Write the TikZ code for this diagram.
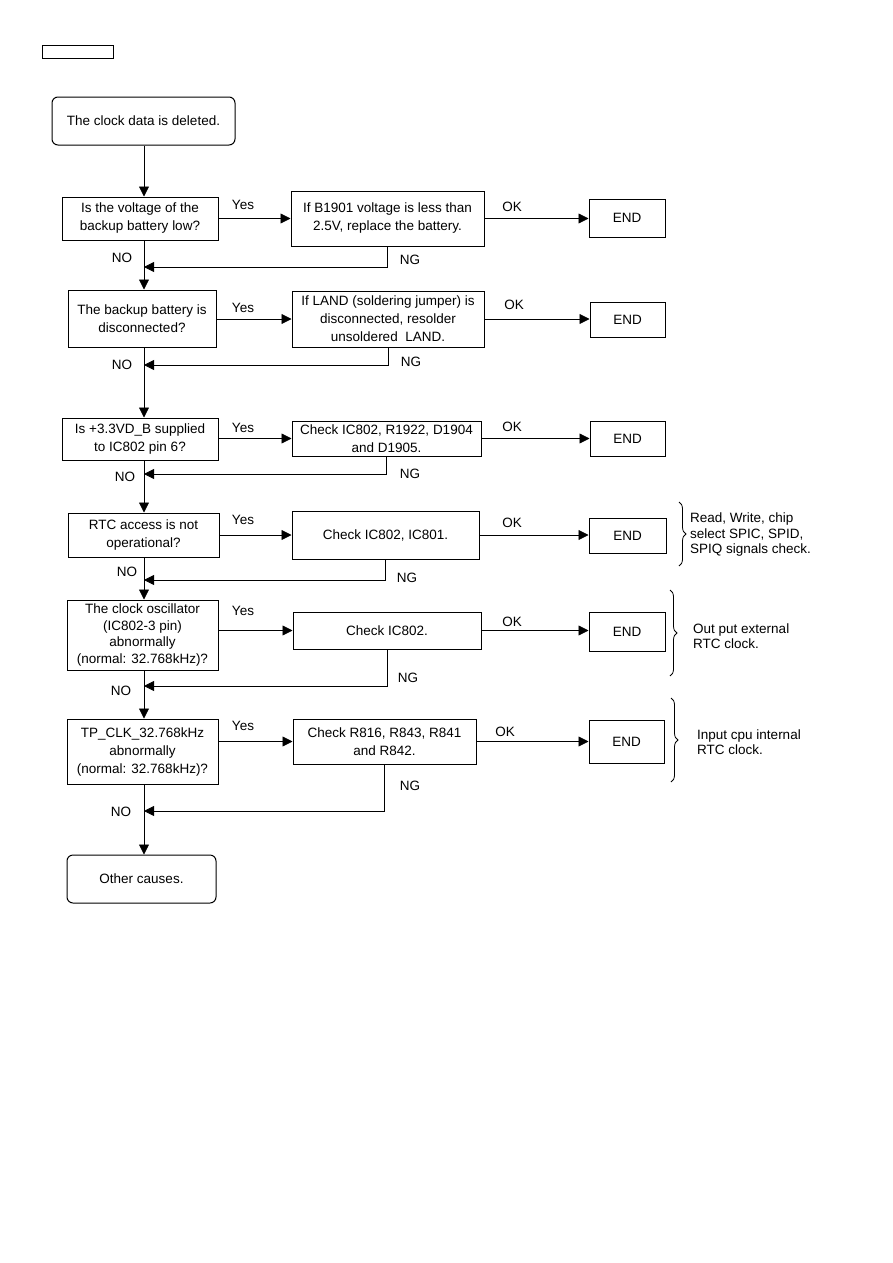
\documentclass[tikz,border=0pt]{standalone}
\usepackage{fontspec}
\setmainfont{Liberation Sans}
\usetikzlibrary{arrows.meta,decorations.pathreplacing}
\begin{document}
\begin{tikzpicture}[x=1pt,y=-1pt,
  every node/.style={font=\fontsize{13.5}{18}\selectfont},
  box/.style={draw,line width=1pt,inner sep=0pt,align=center},
  rbox/.style={box,rounded corners=6pt},
  lab/.style={inner sep=0pt},
  note/.style={inner sep=0pt,align=left,anchor=west,font=\fontsize{13.5}{15.5}\selectfont},
  ln/.style={line width=0.8pt},
  arr/.style={ln,-{Triangle[length=10pt,width=10pt]}},
  brc/.style={decorate,decoration={brace,amplitude=7pt},line width=0.8pt}]
\useasboundingbox (0,0) rectangle (893,1263);
\coordinate (spine) at (144,0);
% header blank box
\node[box,minimum width=71pt,minimum height=13pt] (hdr) at (77.5,52.5) {};
% start
\node[rbox,minimum width=183pt,minimum height=48pt] (start) at (143.5,121) {The clock data is deleted.};
% row 1
\node[box,minimum width=156pt,minimum height=43pt] (q1) at (140,218.5) {Is the voltage of the\\backup battery low?};
\node[box,minimum width=193pt,minimum height=55pt] (a1) at (387.5,218.5) {If B1901 voltage is less than\\2.5V, replace the battery.};
\node[box,minimum width=76pt,minimum height=38pt] (e1) at (627,218) {END};
% row 2
\node[box,minimum width=148pt,minimum height=57pt] (q2) at (142,318.5) {The backup battery is\\disconnected?};
\node[box,minimum width=192pt,minimum height=56pt] (a2) at (388,319) {If LAND (soldering jumper) is\\disconnected, resolder\\unsoldered\ \ LAND.};
\node[box,minimum width=75pt,minimum height=35pt] (e2) at (627.5,319.5) {END};
% row 3
\node[box,minimum width=156pt,minimum height=42pt] (q3) at (140,439) {Is +3.3VD\_B supplied\\to IC802 pin 6?};
\node[box,minimum width=189pt,minimum height=35pt] (a3) at (386.5,438.5) {Check IC802, R1922, D1904\\and D1905.};
\node[box,minimum width=75pt,minimum height=35pt] (e3) at (627.5,438.5) {END};
% row 4
\node[box,minimum width=151pt,minimum height=44pt] (q4) at (143.5,535) {RTC access is not\\operational?};
\node[box,minimum width=187pt,minimum height=48pt] (a4) at (385.5,535) {Check IC802, IC801.};
\node[box,minimum width=77pt,minimum height=35pt] (e4) at (627.5,535.5) {END};
% row 5
\node[box,minimum width=151pt,minimum height=70pt,font=\fontsize{13.5}{16.8}\selectfont] (q5) at (142.5,635) {The clock oscillator\\(IC802-3 pin)\\abnormally\\(normal: 32.768kHz)?};
\node[box,minimum width=188pt,minimum height=37pt] (a5) at (387,630.5) {Check IC802.};
\node[box,minimum width=76pt,minimum height=39pt] (e5) at (627,631.5) {END};
% row 6
\node[box,minimum width=151pt,minimum height=65pt] (q6) at (142.5,751.5) {TP\_CLK\_32.768kHz\\abnormally\\(normal: 32.768kHz)?};
\node[box,minimum width=183pt,minimum height=45pt] (a6) at (384.5,741.5) {Check R816, R843, R841\\and R842.};
\node[box,minimum width=75pt,minimum height=43pt] (e6) at (626.5,741.5) {END};
% end
\node[rbox,minimum width=149pt,minimum height=48pt] (other) at (141.5,879) {Other causes.};

% junctions
\coordinate (j1) at (144,267);
\coordinate (j2) at (144,365);
\coordinate (j3) at (144,474);
\coordinate (j4) at (144,580);
\coordinate (j5) at (144,686);
\coordinate (j6) at (144,811);

% main spine
\draw[arr] (start.south -| spine) -- (q1.north -| spine);
\draw[arr] (q1.south -| spine) -- (q2.north -| spine);
\draw[arr] (q2.south -| spine) -- (q3.north -| spine);
\draw[arr] (q3.south -| spine) -- (q4.north -| spine);
\draw[arr] (q4.south -| spine) -- (q5.north -| spine);
\draw[arr] (q5.south -| spine) -- (q6.north -| spine);
\draw[arr] (q6.south -| spine) -- (other.north -| spine);

% yes / ok arrows
\foreach \i in {1,...,6}{
  \draw[arr] (q\i.east |- a\i) -- (a\i.west);
  \draw[arr] (a\i.east) -- (e\i.west |- a\i);
}
% NG returns
\foreach \i in {1,...,6}{
  \draw[arr] (a\i.south) |- (j\i);
}

% labels
\node[lab] (y1) at (243,205) {Yes}; \node[lab] (o1) at (512,207) {OK}; \node[lab] (g1) at (410,260) {NG}; \node[lab] (n1) at (122,258) {NO};
\node[lab] (y2) at (243,308) {Yes}; \node[lab] (o2) at (514,305) {OK}; \node[lab] (g2) at (411,362) {NG}; \node[lab] (n2) at (122,365) {NO};
\node[lab] (y3) at (243,428) {Yes}; \node[lab] (o3) at (512,427) {OK}; \node[lab] (g3) at (410,474) {NG}; \node[lab] (n3) at (125,477) {NO};
\node[lab] (y4) at (243,520) {Yes}; \node[lab] (o4) at (512,523) {OK}; \node[lab] (g4) at (407,578) {NG}; \node[lab] (n4) at (127,572) {NO};
\node[lab] (y5) at (243,611) {Yes}; \node[lab] (o5) at (512,622) {OK}; \node[lab] (g5) at (408,678) {NG}; \node[lab] (n5) at (121,691) {NO};
\node[lab] (y6) at (243,726) {Yes}; \node[lab] (o6) at (505,732) {OK}; \node[lab] (g6) at (410,786) {NG}; \node[lab] (n6) at (121,812) {NO};

% braces and notes
\coordinate (b4t) at (679,502); \coordinate (b4b) at (679,566);
\coordinate (b5t) at (670,590); \coordinate (b5b) at (670,676);
\coordinate (b6t) at (671,698); \coordinate (b6b) at (671,782);
\draw[brc] (b4t) -- (b4b);
\draw[brc] (b5t) -- (b5b);
\draw[brc] (b6t) -- (b6b);
\node[note] (t4) at (690,535) {Read, Write, chip\\select SPIC, SPID,\\SPIQ signals check.};
\node[note] (t5) at (693,636) {Out put external\\RTC clock.};
\node[note] (t6) at (697,742) {Input cpu internal\\RTC clock.};
\end{tikzpicture}
\end{document}
